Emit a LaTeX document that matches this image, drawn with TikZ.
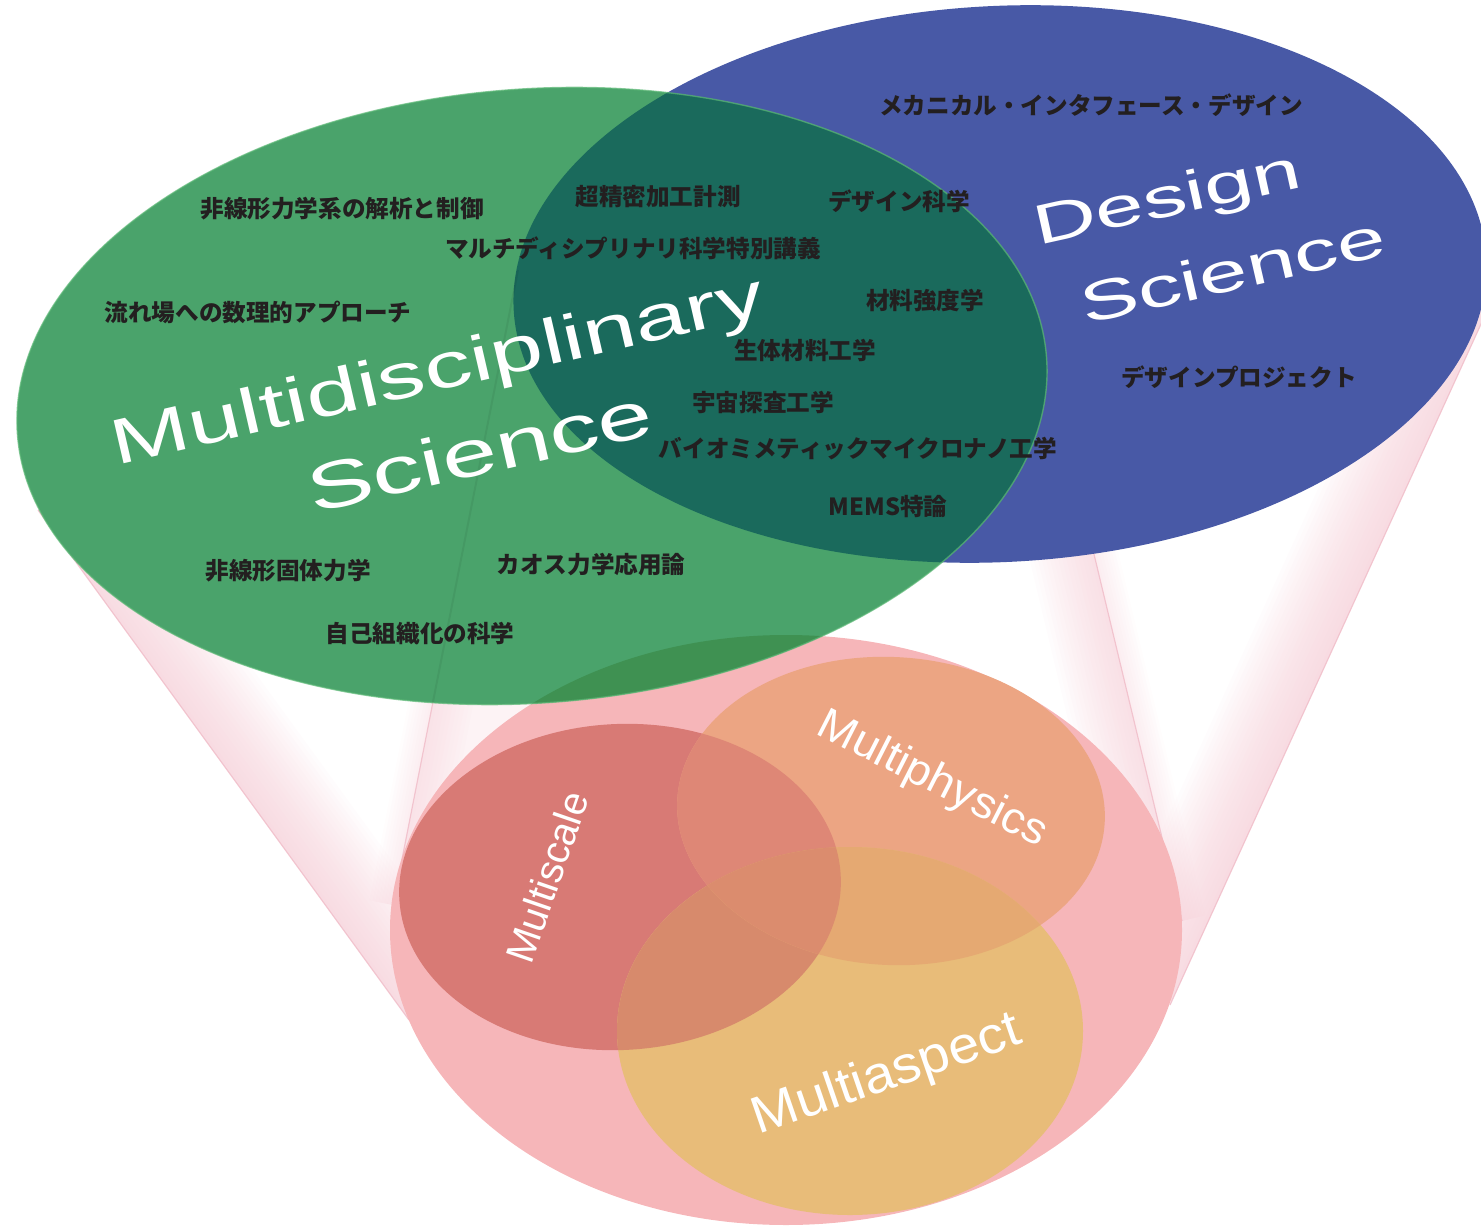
\documentclass[tikz,border=0pt]{standalone}
\usepackage{fontspec}
\newfontfamily\jp{Noto Sans CJK JP}
\newfontfamily\arialf{Liberation Sans}
\definecolor{gr}{HTML}{4AA36B}
\definecolor{grrim}{HTML}{5BB775}
\definecolor{bl}{HTML}{4859A6}
\definecolor{tl}{HTML}{1A6A5C}
\definecolor{grdk}{HTML}{3F9152}
\definecolor{pk}{HTML}{F6B6B9}
\definecolor{rd}{HTML}{D87A75}
\definecolor{og}{HTML}{ECA583}
\definecolor{yl}{HTML}{E8BC79}
\definecolor{rdog}{HTML}{DE8776}
\definecolor{rdyl}{HTML}{D78A6C}
\definecolor{ogyl}{HTML}{E5A972}
\definecolor{allthree}{HTML}{DB8C6E}
\definecolor{cone}{HTML}{F3C2CD}
\definecolor{coneline}{HTML}{F0BCC8}
\definecolor{txt}{HTML}{231F20}
\tikzset{
  jplabel/.style={font=\jp\bfseries\fontsize{11.8pt}{14pt}\selectfont, text=txt, inner sep=0pt},
  biglabel/.style={text=white, inner sep=0pt},
  coneedge/.style={draw=coneline, line width=0.6pt, opacity=0.8}
}
\def\pR{[rotate around={3:(620,887)}] (620,887) ellipse (221 and 163)}
\def\pO{[rotate around={-3:(891,811)}] (891,811) ellipse (214 and 154)}
\def\pY{(850,1031) ellipse (233 and 184)}
\def\pP{(786,930) ellipse (396 and 295)}
\def\pG{[rotate around={4.3:(532,396)}] (532,396) ellipse (516 and 307)}
\def\pB{[rotate around={3:(1000,284)}] (1000,284) ellipse (487 and 278)}
\begin{document}
\begin{tikzpicture}[x=0.5pt,y=-0.5pt]
\useasboundingbox (0,0) rectangle (1481,1229);
\clip (0,0) rectangle (1481,1229);
% cone edge points
\coordinate (L1a) at (38,510);  \coordinate (L1b) at (409,1020);
\coordinate (L2a) at (518,270); \coordinate (L2b) at (393,905);
\coordinate (R2a) at (1033,300); \coordinate (R2b) at (1182,921);
\coordinate (R1a) at (1492,300); \coordinate (R1b) at (1170,1005);
% ---- left cone surface
\begin{scope}
\clip (L1a) -- (L2a) -- (L2b) -- (L1b) -- cycle;
\foreach \i in {1,...,20}
  \draw[cone, opacity=0.045, line width=\i*4pt] (L1a) -- (L1b);
\foreach \i in {1,...,8}
  \draw[cone, opacity=0.04, line width=\i*3pt] (L2a) -- (L2b);
\end{scope}
\begin{scope}
\clip (L2a) -- (760,500) -- (760,700) -- (L2b) -- cycle;
\fill[cone, opacity=0.2] (L2a) -- (760,500) -- (760,700) -- (L2b) -- cycle;
\foreach \i in {1,...,10}
  \draw[cone, opacity=0.04, line width=\i*4pt] (L2a) -- (L2b);
\end{scope}
% ---- right cone surfaces
\begin{scope}
\clip (R2a) -- (R2b) -- (880,760) -- (880,300) -- cycle;
\foreach \i in {1,...,16}
  \draw[cone, opacity=0.045, line width=\i*4pt] (R2a) -- (R2b);
\end{scope}
\begin{scope}
\clip (R2a) -- (R1a) -- (R1b) -- (R2b) -- cycle;
\foreach \i in {1,...,20}
  \draw[cone, opacity=0.045, line width=\i*4pt] (R1a) -- (R1b);
\foreach \i in {1,...,8}
  \draw[cone, opacity=0.04, line width=\i*3pt] (R2a) -- (R2b);
\end{scope}
\draw[coneedge] (L1a) -- (L1b);
\draw[coneedge] (L2a) -- (L2b);
\draw[coneedge] (R2a) -- (R2b);
\draw[coneedge] (R1a) -- (R1b);
% ---- bottom ellipse
\fill[pk] \pP;
\fill[rd] \pR;
\fill[og] \pO;
\fill[yl] \pY;
\begin{scope}
\clip \pR;
\fill[rdog] \pO;
\fill[rdyl] \pY;
\end{scope}
\begin{scope}
\clip \pO;
\fill[ogyl] \pY;
\end{scope}
\begin{scope}
\clip \pR;
\clip \pO;
\fill[allthree] \pY;
\end{scope}
% ---- top ellipses
\fill[bl] \pB;
\fill[gr] \pG;
\begin{scope}
\clip \pB;
\fill[tl] \pG;
\end{scope}
\begin{scope}
\clip \pP;
\fill[grdk] \pG;
\end{scope}
\draw[grrim, line width=0.7pt, opacity=0.7] \pG;
\begin{scope}
\clip \pG;
\draw[black, opacity=0.06, line width=1pt] (L2a) -- (L2b);
\end{scope}
% ---- big labels
\node[biglabel, anchor=base, rotate=13, font=\arialf\fontsize{32pt}{32pt}\selectfont] (mds) at (442,390) {\scalebox{1.48}[1]{Multidisciplinary}};
\node[biglabel, anchor=base, rotate=13, font=\arialf\fontsize{33pt}{33pt}\selectfont] (mdsci) at (485,474) {\scalebox{1.5}[1]{Science}};
\node[biglabel, anchor=base, rotate=12.5, font=\arialf\fontsize{28pt}{28pt}\selectfont] (ds) at (1171,216) {\scalebox{1.56}[1]{Design}};
\node[biglabel, anchor=base, rotate=13, font=\arialf\fontsize{28pt}{28pt}\selectfont] (dssci) at (1237,290) {\scalebox{1.56}[1]{Science}};
\node[biglabel, rotate=71, font=\arialf\fontsize{20pt}{20pt}\selectfont] (msc) at (547,877) {Multiscale};
\node[biglabel, rotate=-27, font=\arialf\fontsize{22pt}{22pt}\selectfont] (mph) at (932,780) {\scalebox{1.05}[1]{Multiphysics}};
\node[biglabel, rotate=19, font=\arialf\fontsize{26pt}{26pt}\selectfont] (mas) at (887,1076) {\scalebox{1.07}[1]{Multiaspect}};
% ---- course labels
\node[jplabel] (j1) at (342,209) {非線形力学系の解析と制御};
\node[jplabel] (j2) at (658,197) {超精密加工計測};
\node[jplabel] (j3) at (899,201) {デザイン科学};
\node[jplabel] (j4) at (633,248) {マルチディシプリナリ科学特別講義};
\node[jplabel] (j5) at (258,312) {流れ場への数理的アプローチ};
\node[jplabel] (j6) at (925,301) {材料強度学};
\node[jplabel] (j7) at (805,350) {生体材料工学};
\node[jplabel] (j8) at (763,402) {宇宙探査工学};
\node[jplabel] (j9) at (858,449) {バイオミメティックマイクロナノ工学};
\node[jplabel] (j10) at (888,507) {MEMS特論};
\node[jplabel] (j11) at (288,571) {非線形固体力学};
\node[jplabel] (j12) at (591,565) {カオス力学応用論};
\node[jplabel] (j13) at (420,634) {自己組織化の科学};
\node[jplabel] (j14) at (1091,105) {メカニカル・インタフェース・デザイン};
\node[jplabel] (j15) at (1239,377) {デザインプロジェクト};
\end{tikzpicture}
\end{document}
